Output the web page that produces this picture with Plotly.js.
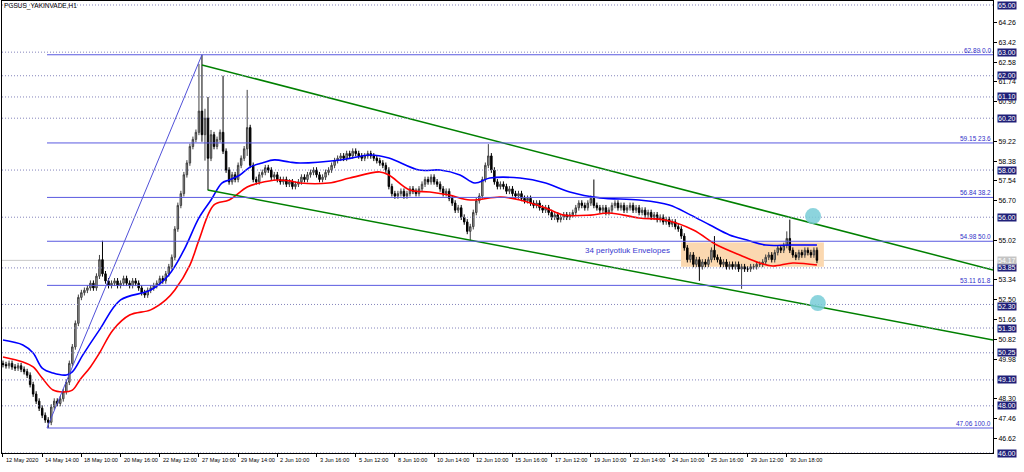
<!DOCTYPE html>
<html><head><meta charset="utf-8">
<script src="https://cdn.plot.ly/plotly-3.0.1.min.js"></script>
<style>html,body{margin:0;padding:0;background:#fff;overflow:hidden}#chart{width:1024px;height:472px;}</style>
</head><body><div id="chart"></div>
<script>
const closeP=[49.75,49.70,49.80,49.65,49.60,49.70,49.55,49.45,49.30,48.90,
48.50,48.20,47.90,47.60,47.40,47.30,47.95,48.20,48.10,48.30,
48.60,49.00,49.80,50.50,51.50,52.60,52.80,52.90,53.00,53.20,
53.00,53.50,54.20,53.60,53.30,53.10,53.20,53.30,53.10,53.20,
53.40,53.20,53.10,53.30,53.20,53.00,52.80,52.70,52.90,53.00,
53.10,53.20,53.40,53.30,53.60,53.90,54.30,55.50,56.50,57.00,
57.80,58.30,59.00,59.30,59.60,60.50,59.50,60.20,58.50,59.50,
59.00,59.30,59.60,58.80,58.00,57.50,57.80,57.60,58.20,58.50,
58.90,59.80,58.20,57.60,57.50,57.80,57.90,58.10,58.00,57.70,
57.80,57.60,57.50,57.60,57.40,57.50,57.30,57.40,57.50,57.70,
57.60,57.80,57.90,58.00,57.80,57.60,57.70,57.90,58.00,58.20,
58.40,58.50,58.60,58.50,58.70,58.60,58.80,58.70,58.60,58.50,
58.60,58.70,58.60,58.50,58.40,58.30,58.20,58.00,57.30,57.00,
56.90,57.00,57.10,56.90,57.00,57.20,57.10,57.00,57.20,57.40,
57.60,57.50,57.70,57.50,57.40,57.20,57.00,57.10,56.80,56.60,
56.30,56.40,56.00,55.80,55.40,55.60,56.20,56.70,56.90,57.60,
58.20,58.60,58.00,57.50,57.30,57.40,57.30,57.10,57.20,57.00,
56.90,57.00,56.80,56.70,56.80,56.60,56.50,56.60,56.40,56.30,
56.40,56.20,56.00,56.10,55.90,56.00,56.10,56.00,56.10,56.20,
56.40,56.60,56.50,56.40,56.60,56.80,56.50,56.40,56.30,56.40,
56.20,56.30,56.50,56.60,56.40,56.50,56.30,56.40,56.50,56.30,
56.40,56.20,56.30,56.10,56.20,56.00,56.10,55.90,56.00,55.80,
55.90,55.70,55.80,55.60,55.50,55.20,54.70,54.20,54.40,54.00,
54.20,53.90,54.10,54.00,54.20,54.60,54.30,54.20,54.00,54.10,
53.90,54.00,53.90,54.00,53.80,53.90,53.80,53.80,53.90,53.90,
54.00,54.00,54.10,54.30,54.40,54.20,54.50,54.70,54.60,54.80,
55.10,54.60,54.40,54.30,54.50,54.40,54.60,54.50,54.40,54.60,54.17];
const openP=[49.80,49.75,49.70,49.80,49.65,49.60,49.70,49.55,49.45,49.30,
48.90,48.50,48.20,47.90,47.60,47.40,47.30,47.95,48.20,48.10,
48.30,48.60,49.00,49.80,50.50,51.50,52.60,52.80,52.90,53.00,
53.20,53.00,53.50,54.20,53.60,53.30,53.10,53.20,53.30,53.10,
53.20,53.40,53.20,53.10,53.30,53.20,53.00,52.80,52.70,52.90,
53.00,53.10,53.20,53.40,53.30,53.60,53.90,54.30,55.50,56.50,
57.00,57.80,58.30,59.00,59.30,59.60,60.50,59.50,60.20,58.50,
59.50,59.00,59.30,59.60,58.80,58.00,57.50,57.80,57.60,58.20,
58.50,58.90,59.80,58.20,57.60,57.50,57.80,57.90,58.10,58.00,
57.70,57.80,57.60,57.50,57.60,57.40,57.50,57.30,57.40,57.50,
57.70,57.60,57.80,57.90,58.00,57.80,57.60,57.70,57.90,58.00,
58.20,58.40,58.50,58.60,58.50,58.70,58.60,58.80,58.70,58.60,
58.50,58.60,58.70,58.60,58.50,58.40,58.30,58.20,58.00,57.30,
57.00,56.90,57.00,57.10,56.90,57.00,57.20,57.10,57.00,57.20,
57.40,57.60,57.50,57.70,57.50,57.40,57.20,57.00,57.10,56.80,
56.60,56.30,56.40,56.00,55.80,55.40,55.60,56.20,56.70,56.90,
57.60,58.20,58.60,58.00,57.50,57.30,57.40,57.30,57.10,57.20,
57.00,56.90,57.00,56.80,56.70,56.80,56.60,56.50,56.60,56.40,
56.30,56.40,56.20,56.00,56.10,55.90,56.00,56.10,56.00,56.10,
56.20,56.40,56.60,56.50,56.40,56.60,56.80,56.50,56.40,56.30,
56.40,56.20,56.30,56.50,56.60,56.40,56.50,56.30,56.40,56.50,
56.30,56.40,56.20,56.30,56.10,56.20,56.00,56.10,55.90,56.00,
55.80,55.90,55.70,55.80,55.60,55.50,55.20,54.70,54.20,54.40,
54.00,54.20,53.90,54.10,54.00,54.20,54.60,54.30,54.20,54.00,
54.10,53.90,54.00,53.90,54.00,53.80,53.90,53.80,53.80,53.90,
53.90,54.00,54.00,54.10,54.30,54.40,54.20,54.50,54.70,54.60,
54.80,55.10,54.60,54.40,54.30,54.50,54.40,54.60,54.50,54.40,54.60];
const highP=[49.92,49.87,49.92,49.92,49.77,49.82,49.82,49.67,49.57,49.42,
49.02,48.62,48.32,48.02,47.72,47.52,48.07,48.32,48.32,48.42,
48.72,49.12,49.92,50.62,51.62,52.72,52.92,53.02,53.12,53.32,
53.32,53.62,54.40,55.00,53.72,53.42,53.32,53.42,53.42,53.32,
53.52,53.52,53.32,53.42,53.42,53.32,53.12,52.92,53.02,53.12,
53.22,53.32,53.52,53.52,53.72,54.02,54.42,55.62,56.62,57.12,
57.92,58.42,59.12,59.42,59.72,62.50,62.89,60.60,61.10,59.70,
59.62,59.42,59.72,62.00,58.92,58.12,57.92,57.92,58.32,58.62,
59.02,61.40,59.92,58.32,57.72,57.92,58.02,58.22,58.22,58.12,
57.92,57.92,57.72,57.72,57.72,57.62,57.62,57.52,57.62,57.82,
57.82,57.92,58.02,58.12,58.12,57.92,57.82,58.02,58.12,58.32,
58.52,58.62,58.72,58.72,58.82,58.82,58.92,58.92,58.82,58.72,
58.72,58.82,58.82,58.72,58.62,58.52,58.42,58.32,58.12,57.42,
57.12,57.12,57.22,57.22,57.12,57.32,57.32,57.22,57.32,57.52,
57.72,57.72,57.82,57.82,57.62,57.52,57.32,57.22,57.22,56.92,
56.72,56.52,56.52,56.12,55.92,55.72,56.32,56.82,57.02,57.72,
58.32,59.10,58.72,58.12,57.62,57.52,57.52,57.42,57.32,57.32,
57.12,57.12,57.12,56.92,56.92,56.92,56.72,56.72,56.72,56.52,
56.52,56.52,56.32,56.22,56.22,56.12,56.22,56.22,56.22,56.32,
56.52,56.72,56.72,56.62,56.72,56.92,57.60,56.62,56.52,56.52,
56.52,56.42,56.62,56.72,56.72,56.62,56.62,56.52,56.62,56.62,
56.52,56.52,56.42,56.42,56.32,56.32,56.22,56.22,56.12,56.12,
56.02,56.02,55.92,55.92,55.72,55.62,55.32,54.82,54.52,54.52,
54.32,54.32,54.22,54.22,54.32,54.72,55.20,54.42,54.32,54.22,
54.22,54.12,54.12,54.12,54.12,54.02,54.02,53.92,54.02,54.02,
54.12,54.12,54.22,54.42,54.52,54.52,54.62,54.82,54.82,54.92,
55.40,55.90,54.72,54.52,54.62,54.62,54.72,54.72,54.62,54.72,54.72];
const lowP=[49.63,49.58,49.58,49.53,49.48,49.48,49.43,49.33,49.18,48.78,
48.38,48.08,47.78,47.48,47.28,47.06,47.18,47.83,47.98,47.98,
48.18,48.48,48.88,49.68,50.38,51.38,52.48,52.68,52.78,52.88,
52.88,52.88,53.38,53.48,53.18,52.98,52.98,53.08,52.98,52.98,
53.08,53.08,52.98,52.98,53.08,52.88,52.68,52.58,52.58,52.78,
52.88,52.98,53.08,53.18,53.18,53.48,53.78,54.18,55.38,56.38,
56.88,57.68,58.18,58.88,59.18,59.48,59.20,58.40,57.15,58.38,
58.88,58.88,59.18,58.68,57.88,57.38,57.38,57.48,57.48,58.08,
58.38,58.60,58.08,57.48,57.38,57.38,57.68,57.78,57.88,57.58,
57.58,57.48,57.38,57.38,57.28,57.28,57.18,57.18,57.28,57.38,
57.48,57.48,57.68,57.78,57.68,57.48,57.48,57.58,57.78,57.88,
58.08,58.28,58.38,58.38,58.38,58.48,58.48,58.58,58.48,58.38,
58.38,58.48,58.48,58.38,58.28,58.18,58.08,57.88,57.18,56.88,
56.78,56.78,56.88,56.78,56.78,56.88,56.98,56.88,56.88,57.08,
57.28,57.38,57.38,57.38,57.28,57.08,56.88,56.88,56.68,56.48,
56.18,56.18,55.88,55.68,55.28,55.00,55.48,56.08,56.58,56.78,
57.48,58.08,57.88,57.38,57.18,57.18,57.18,56.98,56.98,56.88,
56.78,56.78,56.68,56.58,56.58,56.48,56.38,56.38,56.28,56.18,
56.18,56.08,55.88,55.88,55.78,55.78,55.88,55.88,55.88,55.98,
56.08,56.28,56.38,56.28,56.28,56.48,56.38,56.28,56.18,56.18,
56.08,56.08,56.18,56.38,56.28,56.28,56.18,56.18,56.28,56.18,
56.18,56.08,56.08,55.98,55.98,55.88,55.88,55.78,55.78,55.68,
55.68,55.58,55.58,55.48,55.38,55.08,54.58,54.08,54.08,53.88,
53.88,53.30,53.78,53.88,53.88,54.08,54.18,54.08,53.88,53.88,
53.78,53.78,53.78,53.78,53.68,52.96,53.68,53.68,53.68,53.78,
53.78,53.88,53.88,53.98,54.18,54.08,54.08,54.38,54.48,54.48,
54.68,54.48,54.28,54.18,54.18,54.28,54.28,54.38,54.28,54.28,54.05];

const tickIdx=[0,13,26,39,52,65,78,91,104,117,130,143,156,169,182,195,208,221,234,247,260];
const tickText=["12 May 2020","14 May 14:00","18 May 10:00","20 May 16:00","22 May 12:00","27 May 10:00","29 May 14:00","2 Jun 10:00","3 Jun 16:00","5 Jun 12:00","8 Jun 10:00","10 Jun 14:00","12 Jun 10:00","15 Jun 16:00","17 Jun 12:00","19 Jun 10:00","22 Jun 14:00","24 Jun 10:00","25 Jun 16:00","29 Jun 12:00","30 Jun 18:00"];
const yTickVals=[64.26,63.42,62.58,61.74,60.90,59.22,58.38,57.54,56.70,55.02,53.34,52.50,51.66,50.82,49.98,48.30,47.46,46.62];
const levelVals=[65.00,63.00,62.00,61.10,60.20,58.00,56.00,53.85,52.30,51.30,50.25,49.10,48.00,46.00];
const levelShift=[0,0,0,0,0,0,0,0,-2,0,0,0,0,0];
const bidVal=54.17;
const fibVals=[62.89,59.15,56.84,54.98,53.11,47.06];
const fibPct=["0.0","23.6","38.2","50.0","61.8","100.0"];
const fibAnchorX=[14.6,66.0], fibAnchorY=[47.06,62.89];
const chanUpX=[66.0,328.4], chanUpY=[62.46,53.76];
const chanLoX=[67.9,328.4], chanLoY=[57.15,50.79];
const envUpX=[0,6.6,10,13,16.6,21,23,26.5,32,39,49,55,60,65,69,72.6,75,78.6,82,86,90,95,98.5,112,122,128,138,145,151.6,156.5,161.5,171.5,180,188,198,211,221,228,234.5,241,246.8,253,261,270];
const envUpY=[50.79,50.58,50.24,49.60,49.39,49.31,49.44,50.16,51.22,52.49,52.91,53.55,54.60,55.97,56.73,57.45,57.58,57.79,58.13,58.30,58.43,58.34,58.30,58.43,58.64,58.51,58.00,58.00,57.79,57.45,57.66,57.66,57.45,57.07,56.82,56.73,56.52,56.10,55.67,55.25,55.03,54.82,54.82,54.82];
const envLoX=[0,6.6,10,13,16.6,20,23,25.5,29,32,36.5,42,49,54,57,62,65,70,75,81,85,91,95,98.5,108,115,125,128,135,141.6,148,155,165,171.5,180,186,195,201,211,219.6,229,236.8,244.4,251,255.4,262,270];
const envLoY=[50.07,49.86,49.65,49.18,48.67,48.59,48.67,49.10,49.65,50.24,51.22,51.85,52.07,52.49,52.91,53.97,55.03,56.52,56.73,57.28,57.45,57.58,57.54,57.45,57.45,57.66,57.92,57.79,57.15,57.07,56.94,56.73,56.86,56.73,56.39,56.09,56.09,56.18,55.97,55.88,55.46,54.82,54.40,54.06,53.93,54.06,53.97];
const boxX=[224.9,272.3], boxY=[53.90,54.93];
const circleX=[268.7,270.3], circleY=[56.05,52.36];
const noteText="34 periyotluk Envelopes", noteX=192.4, noteY=54.57;
const titleText="PGSUS_YAKINVADE,H1";
const xRange=[-0.33,328.4], yRange=[46.0,65.17];

const barIdx=closeP.map((_,i)=>i);
const FONT="Liberation Sans, Arial, sans-serif";
const traces=[
 {type:'candlestick',x:barIdx,open:openP,high:highP,low:lowP,close:closeP,
  increasing:{line:{color:'#404040',width:1},fillcolor:'#a8a8a8'},
  decreasing:{line:{color:'#000000',width:1},fillcolor:'#000000'},
  whiskerwidth:0,hoverinfo:'skip'},
 {type:'scatter',mode:'lines',x:envUpX,y:envUpY,line:{color:'#0000ff',width:1.6,shape:'spline'},hoverinfo:'skip'},
 {type:'scatter',mode:'lines',x:envLoX,y:envLoY,line:{color:'#ff0000',width:1.6,shape:'spline'},hoverinfo:'skip'},
 {type:'scatter',mode:'lines',x:chanUpX,y:chanUpY,line:{color:'#008000',width:1.5},hoverinfo:'skip'},
 {type:'scatter',mode:'lines',x:chanLoX,y:chanLoY,line:{color:'#008000',width:1.5},hoverinfo:'skip'},
 {type:'scatter',mode:'lines',x:fibAnchorX,y:fibAnchorY,line:{color:'#5050d8',width:1},hoverinfo:'skip'}
];
const shapes=[];
shapes.push({type:'rect',xref:'x',yref:'y',x0:boxX[0],x1:boxX[1],y0:boxY[0],y1:boxY[1],fillcolor:'#fbd8b0',line:{width:0},layer:'below'});
levelVals.forEach(v=>shapes.push({type:'line',xref:'paper',x0:0,x1:1,yref:'y',y0:v,y1:v,line:{color:'#8484bc',width:1,dash:'1px,2px'}}));
shapes.push({type:'line',xref:'paper',x0:0,x1:1,yref:'y',y0:bidVal,y1:bidVal,line:{color:'#c8c8c8',width:1},layer:'below'});
fibVals.forEach(v=>shapes.push({type:'line',xref:'x',x0:fibAnchorX[0],x1:xRange[1],yref:'y',y0:v,y1:v,line:{color:'#5a5ae0',width:1}}));
circleX.forEach((cx,k)=>shapes.push({type:'circle',xref:'x',yref:'y',xsizemode:'pixel',ysizemode:'pixel',xanchor:cx,yanchor:circleY[k],x0:-8,x1:8,y0:-8,y1:8,fillcolor:'rgba(120,205,215,0.85)',line:{width:0}}));

const ann=[];
levelVals.forEach((v,k)=>ann.push({xref:'paper',x:1,xanchor:'left',xshift:4,yref:'y',y:v,yshift:levelShift[k],text:v.toFixed(2),showarrow:false,bgcolor:'#1f1f78',font:{family:FONT,size:7,color:'#ffffff'},borderpad:0}));
ann.push({xref:'paper',x:1,xanchor:'left',xshift:4,yref:'y',y:bidVal,text:bidVal.toFixed(2),showarrow:false,bgcolor:'#c4c4c4',font:{family:FONT,size:7,color:'#ffffff'},borderpad:0});
fibVals.forEach((v,k)=>ann.push({xref:'paper',x:1,xanchor:'right',xshift:0,yref:'y',y:v,yanchor:'bottom',yshift:-1,text:v.toFixed(2)+' '+fibPct[k],showarrow:false,font:{family:FONT,size:6.5,color:'#3030c8'}}));
tickIdx.forEach((t,k)=>ann.push({xref:'x',x:t,xanchor:'left',xshift:1,yref:'paper',y:0,yanchor:'top',yshift:-2,text:tickText[k],showarrow:false,font:{family:FONT,size:5.6,color:'#000'}}));
ann.push({xref:'x',x:noteX,xanchor:'left',yref:'y',y:noteY,text:noteText,showarrow:false,font:{family:FONT,size:8,color:'#3838d0'}});

const layout={
 width:1024,height:472,margin:{l:2,r:31,t:1,b:19},
 paper_bgcolor:'#ffffff',plot_bgcolor:'#ffffff',showlegend:false,
 title:{text:titleText,x:0.004,xanchor:'left',y:0.988,yanchor:'middle',font:{family:FONT,size:6.5,color:'#000'}},
 xaxis:{type:'linear',range:xRange,rangeslider:{visible:false},showgrid:false,zeroline:false,
   showline:true,linecolor:'#000',linewidth:1,mirror:true,
   tickmode:'array',tickvals:tickIdx,ticktext:tickText,showticklabels:false,ticks:'outside',ticklen:3,tickcolor:'#000'},
 yaxis:{side:'right',range:yRange,showgrid:false,zeroline:false,showline:true,linecolor:'#000',linewidth:1,mirror:true,
   tickmode:'array',tickvals:yTickVals,ticktext:yTickVals.map(v=>v.toFixed(2)),ticks:'outside',ticklen:3,tickcolor:'#000',
   tickfont:{family:FONT,size:7,color:'#000'}},
 shapes:shapes,annotations:ann,hovermode:false
};
Plotly.newPlot('chart',traces,layout,{staticPlot:true,displayModeBar:false});
</script></body></html>
